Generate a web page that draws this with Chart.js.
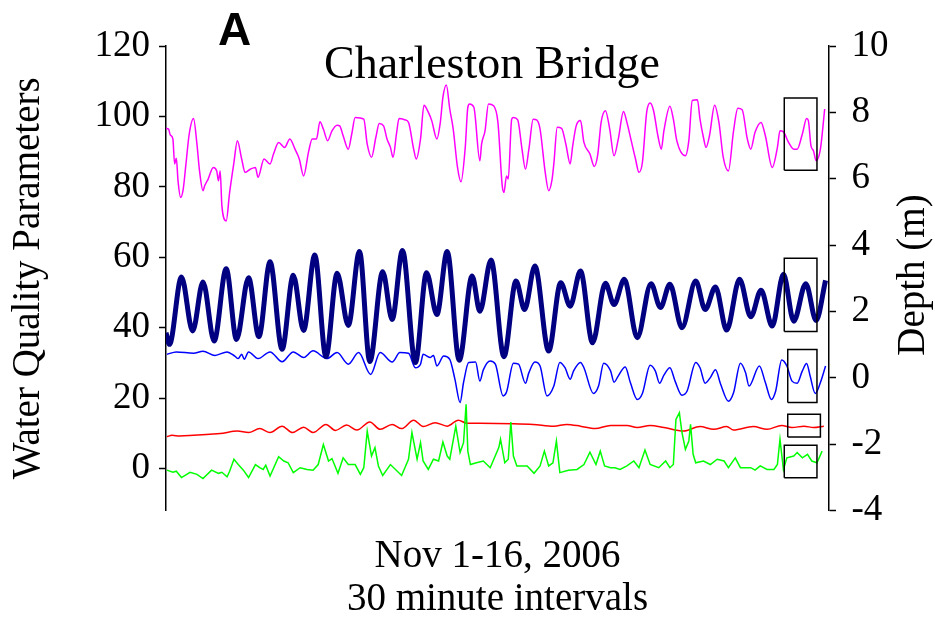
<!DOCTYPE html>
<html lang="en">
<head>
    <meta charset="UTF-8">
    <title>Charleston Bridge</title>
    <script src="https://cdn.jsdelivr.net/npm/chart.js"></script>
    <style>
        body { margin: 0; background: #fff; }
        canvas { display: block; }
    </style>
</head>
<body>
    <canvas id="chart" width="935" height="618"></canvas>

    <script>
        // x = index of the 30 minute interval (Nov 1-16, 2006)
        // depth (m), right axis
        const depthIdx = [0,4,18,31,43,56,70,82,96,108,121,135,148,160,173,186,199,212,225,237,252,263,275,290,303,315,327,341,356,365,378,393,407,417,429,445,459,470,482,496,511,521,533,548,564,575,586,600,616,627,639,652,667,680,692,705,718,730,744,756,767];
        const depthM = [1.36,1.01,3.04,1.41,2.89,1.11,3.29,1.16,3.02,1.24,3.50,0.86,3.09,1.43,3.70,0.64,3.15,1.58,3.81,0.49,3.20,1.76,3.84,0.46,3.17,1.91,3.81,0.53,3.07,2.01,3.55,0.64,2.92,2.06,3.37,0.81,2.87,2.16,3.22,1.06,2.85,2.21,2.97,1.21,2.84,2.12,2.82,1.51,2.92,2.06,2.74,1.44,2.97,1.84,2.64,1.56,3.12,1.71,2.84,1.73,2.94];

        // magenta series
        const magentaIdx = [0,3,5,8,10,12,14,17,20,23,27,32,36,39,43,45,49,55,59,61,63,65,70,74,79,83,88,92,98,104,107,114,121,125,131,138,144,150,155,160,166,170,175,179,183,188,193,199,202,206,212,216,220,230,234,239,244,248,253,257,261,264,268,271,278,282,288,291,296,300,305,309,315,319,322,326,330,334,339,343,348,351,353,358,365,367,371,375,381,386,391,393,396,398,402,404,409,414,418,422,427,431,435,441,445,449,451,455,460,465,470,473,477,482,486,493,498,502,506,511,516,521,526,532,536,541,546,550,554,559,563,567,572,576,579,586,590,594,604,608,612,618,621,625,628,632,638,643,648,654,660,665,670,676,680,685,692,697,705,711,714,718,724,730,734,740,745,747,750,753,756,761,766];
        const magentaVal = [96.6,96.4,94.7,93.6,86.5,88.1,81.7,77.0,79.3,86.0,95.0,99.4,92.1,84.5,78.9,80.3,82.2,85.5,84.5,81.7,84.5,74.6,70.3,78.4,86.9,93.1,87.9,84.1,85.0,85.5,82.7,87.9,86.5,89.3,92.6,91.2,93.6,90.7,87.9,83.1,90.2,93.6,93.6,98.5,96.4,93.1,95.9,97.5,97.3,94.5,90.7,95.0,99.7,99.2,92.1,88.4,94.0,98.0,97.3,93.6,91.2,88.4,95.0,99.4,99.0,98.3,90.7,87.9,93.6,103.2,101.2,98.8,93.6,98.3,105.4,108.9,102.1,96.4,85.5,81.4,91.2,102.6,103.5,102.6,87.4,92.1,95.9,103.5,103.0,98.3,80.3,78.4,83.1,82.2,99.2,99.7,99.0,90.7,85.0,90.7,99.2,99.0,96.4,84.1,78.9,82.2,86.5,96.9,96.6,92.1,86.5,91.7,97.3,98.8,92.6,89.3,85.8,89.0,98.3,101.6,96.4,88.8,93.6,101.4,98.3,93.1,87.9,84.1,86.9,101.2,103.8,101.6,94.5,90.7,95.9,102.9,99.2,93.1,88.8,93.1,104.5,104.7,99.2,94.0,91.2,94.5,103.2,98.3,88.4,84.5,95.9,102.3,101.9,93.6,90.7,95.5,98.3,94.5,85.5,91.2,95.9,95.6,92.6,90.7,90.7,95.0,99.4,98.8,91.7,90.2,87.4,90.7,102.1];

        // blue series
        const blueIdx = [1,12,32,43,57,71,80,84,88,91,96,107,121,135,148,160,171,187,199,212,224,238,249,263,272,282,290,296,299,307,311,315,323,330,336,342,346,352,360,365,369,377,383,392,396,404,410,418,422,429,435,443,451,458,464,470,474,482,486,497,503,509,517,521,526,534,540,548,554,563,569,574,579,586,592,600,606,616,621,627,633,639,645,654,660,668,674,678,690,697,704,709,716,722,728,734,740,745,749,755,761,767];
        const blueVal = [32.4,33.1,32.7,33.3,32.1,33.1,31.9,31.2,32.4,31.0,33.1,31.2,33.1,30.3,33.1,31.5,33.4,31.2,32.9,29.6,32.9,26.7,32.9,30.2,32.9,32.7,28.6,29.6,32.4,31.5,32.1,29.1,31.9,31.0,25.3,18.7,24.4,30.1,30.2,24.8,28.0,30.5,29.6,20.6,21.7,29.9,29.6,24.2,27.2,30.2,29.1,20.6,23.4,30.1,28.6,25.3,27.7,30.1,28.6,21.3,23.4,29.9,27.7,24.5,26.3,28.8,24.4,19.6,21.3,29.3,27.7,24.2,26.5,28.6,24.8,20.8,22.0,30.1,28.6,24.2,25.8,28.0,23.9,19.1,21.5,29.9,27.2,23.4,29.1,24.4,19.6,22.0,30.8,29.1,24.8,24.2,27.7,29.8,26.3,21.3,24.4,29.1];

        // red series
        const redIdx = [1,7,16,32,51,63,83,96,109,121,135,147,160,171,186,197,210,222,237,249,263,274,288,299,313,327,340,350,365,404,427,451,466,482,499,517,536,548,563,579,602,621,637,652,660,683,699,716,728,742,753,765];
        const redVal = [9.0,9.4,9.2,9.4,9.7,9.9,10.6,10.2,11.3,10.2,12.0,10.2,11.7,10.2,12.5,10.8,12.3,10.9,13.2,11.1,12.5,11.3,13.7,11.9,13.0,12.0,13.7,12.8,12.8,12.7,12.5,12.0,12.5,12.0,11.3,12.2,12.2,11.6,12.2,11.6,10.6,11.9,11.1,11.9,10.9,11.9,11.1,12.2,11.6,12.0,11.6,12.0];

        // green series
        const greenIdx = [1,8,12,18,28,36,43,53,61,65,71,74,79,84,90,96,104,109,113,116,121,131,137,142,148,156,164,171,177,183,189,193,200,206,212,220,226,230,234,239,243,247,252,261,274,282,286,292,296,299,305,311,317,322,327,330,337,342,346,349,351,354,361,369,377,387,389,394,398,401,404,408,420,428,435,440,445,450,454,458,468,478,486,493,500,505,510,517,522,528,536,544,550,557,563,573,581,586,590,593,597,600,604,608,610,613,616,625,633,641,649,654,662,668,680,685,691,699,707,711,714,718,722,730,734,740,746,751,757,763];
        const greenVal = [-0.5,-1.1,-0.8,-2.6,-1.1,-1.7,-2.9,-0.5,-1.4,-1.1,-2.4,-0.8,2.6,1.1,-0.5,-2.6,1.1,0.2,-0.3,0.9,-2.2,3.3,2.1,1.6,-1.2,0.2,-0.3,-0.5,1.1,6.8,2.1,2.8,-1.4,3.0,1.1,1.1,-1.7,0.2,10.6,3.5,5.9,0.7,-2.0,1.1,-2.0,2.6,10.2,2.6,7.3,2.1,-0.3,2.6,2.1,7.5,3.5,2.6,12.0,4.5,7.3,18.2,4.9,1.1,1.6,2.1,0.2,5.9,8.3,1.6,2.6,13.2,3.5,0.7,0.7,-1.4,0.7,4.9,0.7,1.6,7.8,-1.2,-0.5,-0.3,1.1,4.6,1.1,4.9,0.7,0.2,0.2,-0.3,0.7,2.1,0.2,5.2,1.1,0.2,2.1,0.2,1.1,13.9,15.8,10.2,5.4,7.8,12.5,4.0,1.6,2.1,1.1,2.6,2.1,0.2,3.0,0.2,0.2,-0.5,0.7,-0.3,-0.3,1.1,8.3,-0.3,3.0,3.5,4.5,3.0,4.0,2.1,1.6,4.9];

        // boxes around the last day (left axis units)
        const boxX0 = [719, 719, 723, 723, 719];
        const boxX1 = [757, 757, 757, 761, 757];
        const boxY0 = [84.7, 38.9, 18.7, 8.9, -2.65];
        const boxY1 = [105.2, 59.7, 33.8, 15.4, 6.6];

        const serif = "'Liberation Serif', 'Times New Roman', serif";

        function pts(xs, ys) {
            return xs.map((x, i) => ({ x: x, y: ys[i] }));
        }

        const boxSets = boxX0.map((x0, i) => ({
            data: [
                { x: x0, y: boxY0[i] }, { x: boxX1[i], y: boxY0[i] },
                { x: boxX1[i], y: boxY1[i] }, { x: x0, y: boxY1[i] },
                { x: x0, y: boxY0[i] }
            ],
            borderColor: '#000',
            borderWidth: 1.5,
            pointRadius: 0,
            tension: 0,
            yAxisID: 'y'
        }));

        function line(xs, ys, color, width, axis, smooth) {
            return {
                data: pts(xs, ys),
                borderColor: color,
                borderWidth: width,
                pointRadius: 0,
                tension: 0,
                cubicInterpolationMode: smooth ? 'monotone' : 'default',
                yAxisID: axis
            };
        }

        // extra text drawn on the canvas
        const textPlugin = {
            id: 'texts',
            afterDraw(chart) {
                const ctx = chart.ctx;
                ctx.save();
                ctx.fillStyle = '#000';
                ctx.textAlign = 'center';
                ctx.textBaseline = 'alphabetic';
                ctx.font = '46px ' + serif;
                ctx.fillText('Charleston Bridge', 492, 78);
                ctx.textAlign = 'left';
                ctx.font = "bold 46px 'Liberation Sans', Arial, sans-serif";
                ctx.fillText('A', 218, 45);
                ctx.translate(914, 275);
                ctx.rotate(-Math.PI / 2);
                ctx.textAlign = 'center';
                ctx.textBaseline = 'middle';
                ctx.font = '39px ' + serif;
                ctx.fillText('Depth (m)', 0, 0);
                ctx.restore();
            }
        };

        const axisGrid = {
            drawOnChartArea: false,
            drawTicks: true,
            tickLength: 7,
            tickColor: '#000',
            tickWidth: 1.5
        };

        new Chart(document.getElementById('chart').getContext('2d'), {
            type: 'line',
            data: {
                datasets: boxSets.concat([
                    line(depthIdx, depthM, '#000080', 5, 'y1', true),
                    line(greenIdx, greenVal, '#00ff00', 1.5, 'y', false),
                    line(magentaIdx, magentaVal, '#ff00ff', 1.5, 'y', true),
                    line(blueIdx, blueVal, '#0000ff', 1.5, 'y', true),
                    line(redIdx, redVal, '#ff0000', 1.5, 'y', true)
                ])
            },
            options: {
                responsive: false,
                animation: false,
                layout: { padding: { left: 0, right: 31, top: 46, bottom: 0 } },
                plugins: {
                    legend: { display: false },
                    tooltip: { enabled: false }
                },
                scales: {
                    x: {
                        type: 'linear',
                        min: 0,
                        max: 771,
                        ticks: { display: false },
                        grid: { display: false, drawTicks: false },
                        border: { display: false },
                        title: {
                            display: true,
                            text: ['Nov 1-16, 2006', '30 minute intervals'],
                            color: '#000',
                            font: { family: serif, size: 39, lineHeight: 1.12 },
                            padding: { top: 24, bottom: -4 }
                        }
                    },
                    y: {
                        position: 'left',
                        min: -12,
                        max: 120,
                        afterBuildTicks: s => { s.ticks = s.ticks.filter(t => t.value % 20 === 0); },
                        ticks: { stepSize: 20, color: '#000', padding: 9, font: { family: serif, size: 37 } },
                        grid: axisGrid,
                        border: { color: '#000', width: 1.5 },
                        title: {
                            display: true,
                            text: 'Water Quality Parameters',
                            color: '#000',
                            font: { family: serif, size: 39, lineHeight: 1 },
                            padding: { top: 9.5, bottom: 37 }
                        }
                    },
                    y1: {
                        position: 'right',
                        min: -4,
                        max: 10,
                        ticks: { stepSize: 2, color: '#000', padding: 15.5, font: { family: serif, size: 37 } },
                        grid: axisGrid,
                        border: { color: '#000', width: 1.5 }
                    }
                }
            },
            plugins: [textPlugin]
        });
    </script>
</body>
</html>
